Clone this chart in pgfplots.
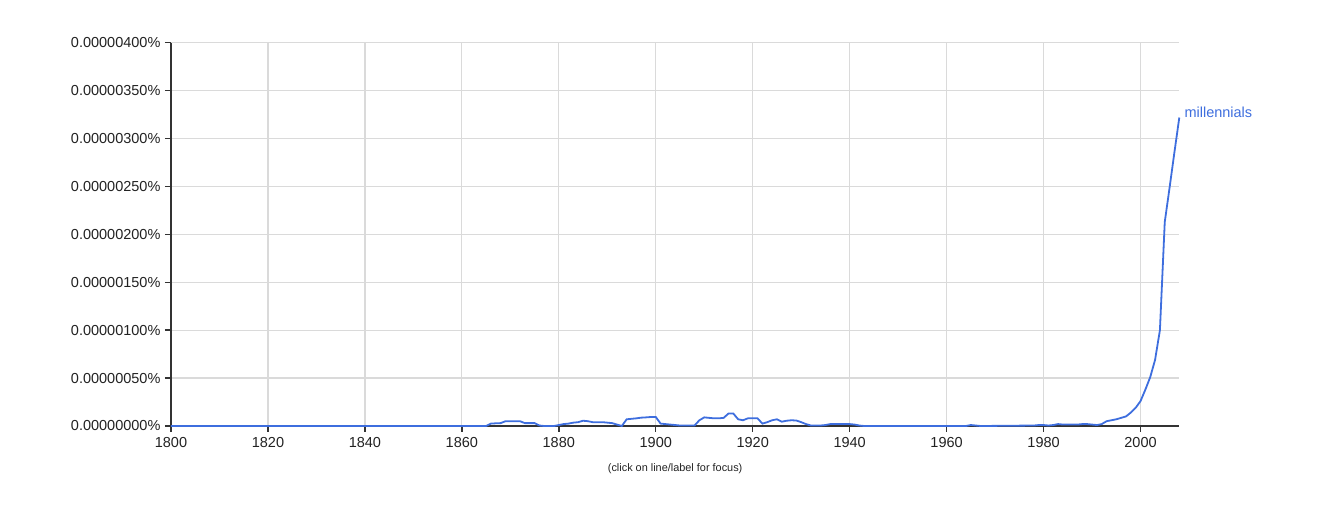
\documentclass[border=0pt]{standalone}
\usepackage{fontspec}
\setmainfont{Liberation Sans}
\usepackage{pgfplots}
\pgfplotsset{compat=1.18}
\definecolor{ngblue}{RGB}{62,110,222}
\definecolor{gridc}{HTML}{DADADA}
\definecolor{axc}{HTML}{333333}
\definecolor{txtc}{HTML}{222222}
\begin{document}
\begin{tikzpicture}[x=1pt,y=1pt]
\path[use as bounding box] (-171,-101) rectangle (1152,426);
\begin{axis}[
  at={(0,0)}, anchor=south west,
  scale only axis, width=1008.3pt, height=383.2pt,
  xmin=1800, xmax=2008, ymin=0, ymax=400,
  axis x line=bottom, axis y line=left,
  axis line style={-, axc, line width=1.6pt},
  xtick={1800,1820,...,2000},
  ytick={0,50,...,400},
  yticklabels={0.00000000\%,0.00000050\%,0.00000100\%,0.00000150\%,0.00000200\%,0.00000250\%,0.00000300\%,0.00000350\%,0.00000400\%},
  /pgf/number format/1000 sep={},
  /pgf/number format/assume math mode=true,
  tick label style={font=\fontsize{14.5}{17}\selectfont, text=txtc},
  xticklabel style={yshift=-2pt},
  yticklabel style={xshift=-1pt},
  tick align=outside, major tick length=6pt,
  tick style={axc, line width=1.4pt},
  grid=major, major grid style={gridc, line width=1.2pt},
  clip=false,
]
\addplot[ngblue, line width=1.8pt] coordinates {
(1800,0) (1865,0) (1866,2.5) (1867,2.8) (1868,3) (1869,5) (1870,5) (1871,5) (1872,5)
(1873,3) (1874,3) (1875,3) (1876,0.5) (1877,0) (1878,0) (1879,0) (1880,1) (1881,2)
(1882,2.5) (1883,3.5) (1884,4) (1885,5.5) (1886,5) (1887,4) (1888,4) (1889,4) (1890,3.5)
(1891,3) (1892,1.5) (1893,0) (1894,7) (1895,7.5) (1896,8) (1897,8.7) (1898,9) (1899,9.4)
(1900,9.4) (1901,2.5) (1902,2) (1903,1.5) (1904,1) (1905,0.5) (1906,0.5) (1907,0.5)
(1908,0.5) (1909,6) (1910,9) (1911,8.5) (1912,8) (1913,8) (1914,8.5) (1915,13) (1916,13)
(1917,7) (1918,6) (1919,8) (1920,8) (1921,8) (1922,2.5) (1923,4) (1924,6) (1925,7)
(1926,4.5) (1927,5.5) (1928,6) (1929,5.7) (1930,4) (1931,2) (1932,0.5) (1933,0.5)
(1934,0.5) (1935,1) (1936,2) (1937,2) (1938,2) (1939,2) (1940,2) (1941,1.5) (1942,0.5)
(1943,0) (1964,0) (1965,1) (1966,0.5) (1967,0) (1978,0.5) (1979,1) (1980,1) (1981,0.5)
(1982,1) (1983,2) (1984,1.5) (1985,1.5) (1986,1.5) (1987,1.5) (1988,2) (1989,2) (1990,1.5)
(1991,1) (1992,2) (1993,5) (1994,6) (1995,7) (1996,8.5) (1997,10) (1998,14) (1999,19)
(2000,26) (2001,38) (2002,51) (2003,69) (2004,100) (2005,213) (2006,249) (2007,286) (2008,322)
} node[pos=1, anchor=west, xshift=1pt, yshift=5pt, text=ngblue, font=\fontsize{14.5}{17}\selectfont] {millennials};
\node[font=\fontsize{10.9}{13}\selectfont, text=txtc] at (rel axis cs:0.5,0) [yshift=-42.5pt] {(click on line/label for focus)};
\end{axis}
\end{tikzpicture}
\end{document}
